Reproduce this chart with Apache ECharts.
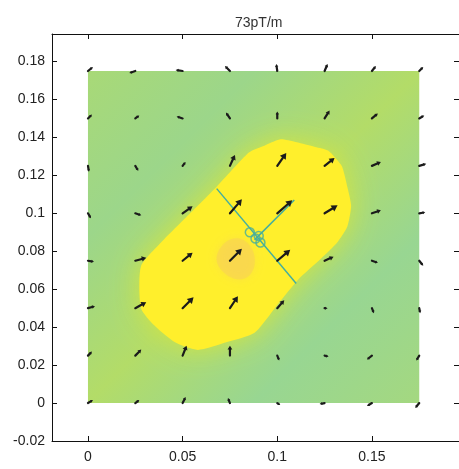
<!DOCTYPE html>
<html>
<head>
<meta charset="utf-8">
<script src="https://cdn.jsdelivr.net/npm/echarts@6/dist/echarts.min.js"></script>
<style>html,body{margin:0;padding:0;background:#fff}#c{width:459px;height:469px}</style>
</head>
<body>
<div id="c"></div>
<script>
// ---- data ----
const titleText = '73pT/m';
const xTickVals = [0, 0.05, 0.1, 0.15];
const yTickVals = [-0.02, 0, 0.02, 0.04, 0.06, 0.08, 0.1, 0.12, 0.14, 0.16, 0.18];
const gridXs = [0, 0.025, 0.05, 0.075, 0.1, 0.125, 0.15, 0.175];
const gridYs = [0, 0.025, 0.05, 0.075, 0.1, 0.125, 0.15, 0.175];
// field components per grid row (row j = gridYs[j], column i = gridXs[i])
const arrowU = [
  [5, 4, 3, -2, 3, -5, -5, -4],
  [4, 6, 4, 0, 2, 4, -5, -3],
  [7, 11, 11, 8, 7, 3, 2, 1],
  [6, 11, 10, 12, 13, 9, 6, 4],
  [3, 6, 10, 12, 15, 13, 9, 6],
  [1, 3, 3, 5, 9, 10, 9, 7],
  [4, 4, -6, -4, 0, 5, 6, 5],
  [5, -6, -7, -5, -1, 3, 4, 4]
];
const arrowV = [
  [3, 3, 6, 5, -2, -1, -3, -5],
  [4, 6, 10, 10, -5, -1, -4, -5],
  [2, 6, 11, 12, 8, 0, -5, -5],
  [-1, 3, 8, 12, 11, 4, -2, -5],
  [-5, -2, 7, 14, 13, 8, 3, 1],
  [-6, -5, 4, 11, 13, 8, 4, 2],
  [4, 3, 2, 6, 7, 8, 5, 3],
  [4, -2, 1, 5, 7, 7, 5, 4]
];
const fieldExtent = [0, 0, 0.175, 0.175];
const yellowOutline = [
  [0.028, 0.072], [0.028, 0.050], [0.035, 0.041], [0.046, 0.032], [0.058, 0.028],
  [0.073, 0.032], [0.088, 0.037], [0.101, 0.053], [0.111, 0.065], [0.123, 0.076],
  [0.132, 0.085], [0.137, 0.093], [0.139, 0.104], [0.137, 0.114], [0.134, 0.125],
  [0.127, 0.133], [0.120, 0.135], [0.102, 0.139], [0.094, 0.136], [0.085, 0.132],
  [0.068, 0.114], [0.052, 0.098], [0.040, 0.086]
];
const orangeSpot = [
  [0.068, 0.075], [0.073, 0.085], [0.082, 0.086], [0.088, 0.077], [0.085, 0.067], [0.076, 0.066]
];
const dipoleLineA = [[0.068, 0.113], [0.110, 0.063]];
const dipoleLineB = [[0.088, 0.086], [0.109, 0.107]];
const dipoleMarks = [[0.0855, 0.0900], [0.0885, 0.0867], [0.0911, 0.0846], [0.0902, 0.0881]];
const vectorScale = 1 / 1900;

// ---- build ----
const arrowData = [];
for (let j = 0; j < gridYs.length; j++)
  for (let i = 0; i < gridXs.length; i++)
    arrowData.push([gridXs[i], gridYs[j], arrowU[j][i], arrowV[j][i]]);

const FONT = 'Liberation Sans';
const axisCommon = {
  type: 'value',
  axisLine: { show: true, onZero: false, lineStyle: { color: '#111', width: 1 } },
  axisTick: { show: true, inside: true, length: 5, lineStyle: { color: '#111' } },
  splitLine: { show: false },
  z: 10
};

const chart = echarts.init(document.getElementById('c'), null, { renderer: 'canvas' });
chart.setOption({
  animation: false,
  backgroundColor: '#ffffff',
  title: {
    text: titleText, left: 230, top: 11,
    textStyle: { fontFamily: FONT, fontSize: 14, fontWeight: 'normal', color: '#333' }
  },
  grid: { left: 52, top: 34, width: 410, height: 407 },
  xAxis: [
    Object.assign({}, axisCommon, {
      position: 'bottom', min: -0.019, max: 0.196,
      axisTick: Object.assign({}, axisCommon.axisTick, { customValues: xTickVals }),
      axisLabel: { customValues: xTickVals, margin: 9, fontFamily: FONT, fontSize: 14, color: '#222' }
    }),
    Object.assign({}, axisCommon, {
      position: 'top', min: -0.019, max: 0.196,
      axisTick: Object.assign({}, axisCommon.axisTick, { customValues: xTickVals }),
      axisLabel: { show: false }
    })
  ],
  yAxis: [
    Object.assign({}, axisCommon, {
      position: 'left', min: -0.02, max: 0.1945,
      axisTick: Object.assign({}, axisCommon.axisTick, { customValues: yTickVals }),
      axisLabel: { customValues: yTickVals, margin: 7, fontFamily: FONT, fontSize: 14, color: '#222' }
    }),
    Object.assign({}, axisCommon, {
      position: 'right', min: -0.02, max: 0.1945,
      axisTick: Object.assign({}, axisCommon.axisTick, { customValues: yTickVals }),
      axisLabel: { show: false }
    })
  ],
  series: [
    {
      type: 'custom', z: 1, silent: true,
      data: [fieldExtent],
      renderItem: function (params, api) {
        const p0 = api.coord([api.value(0), api.value(3)]);
        const p1 = api.coord([api.value(2), api.value(1)]);
        return {
          type: 'rect',
          shape: { x: p0[0], y: p0[1], width: p1[0] - p0[0], height: p1[1] - p0[1] },
          style: {
            fill: {
              type: 'linear', x: 0, y: 0, x2: 1, y2: 1,
              colorStops: [
                { offset: 0, color: '#a8d977' },
                { offset: 0.25, color: '#9cd68a' },
                { offset: 0.5, color: '#b3dc68' },
                { offset: 0.75, color: '#98d692' },
                { offset: 1, color: '#a4d880' }
              ]
            }
          }
        };
      }
    },
    {
      type: 'custom', z: 2, silent: true,
      data: [[0, 0]],
      renderItem: function (params, api) {
        const pts = yellowOutline.map(p => api.coord(p));
        return {
          type: 'polygon',
          shape: { points: pts, smooth: 0.2 },
          style: { fill: '#ffef2c', shadowBlur: 28, shadowColor: 'rgba(214,230,60,0.95)' }
        };
      }
    },
    {
      type: 'custom', z: 3, silent: true,
      data: [[0, 0]],
      renderItem: function (params, api) {
        const pts = orangeSpot.map(p => api.coord(p));
        return {
          type: 'polygon',
          shape: { points: pts, smooth: 0.4 },
          style: { fill: 'rgba(247,208,88,0.55)', shadowBlur: 10, shadowColor: 'rgba(247,210,90,0.8)' }
        };
      }
    },
    {
      type: 'line', z: 4, silent: true, data: dipoleLineA, symbol: 'none',
      lineStyle: { color: '#45ae9e', width: 1.5 }
    },
    {
      type: 'line', z: 4, silent: true, data: dipoleLineB, symbol: 'none',
      lineStyle: { color: '#45ae9e', width: 1.5 }
    },
    {
      type: 'scatter', z: 5, silent: true, data: dipoleMarks,
      symbol: 'circle', symbolSize: 9,
      itemStyle: { color: 'rgba(0,0,0,0)', borderColor: '#45ae9e', borderWidth: 1.5 }
    },
    {
      type: 'custom', z: 6, silent: true,
      data: arrowData,
      renderItem: function (params, api) {
        const x = api.value(0), y = api.value(1), u = api.value(2), v = api.value(3);
        const p0 = api.coord([x, y]);
        const p1 = api.coord([x + u * vectorScale, y + v * vectorScale]);
        const dx = p1[0] - p0[0], dy = p1[1] - p0[1];
        const len = Math.hypot(dx, dy);
        if (len < 0.5) return null;
        const ux = dx / len, uy = dy / len;
        const h = Math.max(2.5, Math.min(6, len * 0.4));
        const w = h * 0.6;
        const bx = p1[0] - ux * h, by = p1[1] - uy * h;
        return {
          type: 'group',
          children: [
            { type: 'line', shape: { x1: p0[0], y1: p0[1], x2: bx, y2: by },
              style: { stroke: '#1b1b1b', lineWidth: 2.2, lineCap: 'round' } },
            { type: 'polygon', shape: { points: [[p1[0], p1[1]], [bx - uy * w, by + ux * w], [bx + uy * w, by - ux * w]] },
              style: { fill: '#1b1b1b' } }
          ]
        };
      }
    }
  ]
});
</script>
</body>
</html>
